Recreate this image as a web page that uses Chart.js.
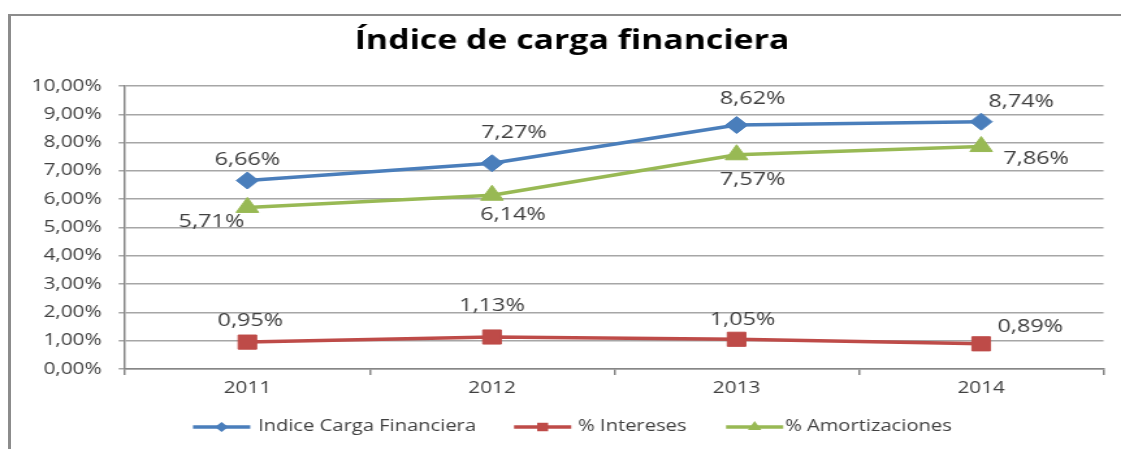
<!DOCTYPE html>
<html>
<head>
<meta charset="utf-8">
<script src="https://cdn.jsdelivr.net/npm/chart.js@4.4.1/dist/chart.umd.min.js"></script>
<style>
  html, body { margin: 0; padding: 0; background: #fff; width: 1121px; height: 449px; overflow: hidden; }
  #frame { position: absolute; left: 8px; top: 14px; width: 1200px; height: 500px;
           border-top: 2px solid #8c8c8c; border-left: 3px solid #8c8c8c; }
  /* the original picture is stretched sideways, so the canvas is too */
  #wrap { position: absolute; left: 0; top: 0; width: 862px; height: 449px;
          transform-origin: 0 0; transform: scaleX(1.3005); }
</style>
</head>
<body>
<div id="frame"></div>
<div id="wrap"><canvas id="chart" width="862" height="449"></canvas></div>
<script>
const STRETCH = 1121 / 862;

// data
const years = ['2011', '2012', '2013', '2014'];
const indiceCarga = [6.66, 7.27, 8.62, 8.74];
const intereses = [0.95, 1.13, 1.05, 0.89];
const amortizaciones = [5.71, 6.14, 7.57, 7.86];
const seriesNames = ['Indice Carga Financiera', '% Intereses', '% Amortizaciones'];
const yMin = 0, yMax = 10, yStep = 1;
const chartTitle = 'Índice de carga financiera';

const fmt = v => Number(v).toFixed(2).replace('.', ',') + '%';
const FONT = "'Open Sans', 'DejaVu Sans', sans-serif";
const TEXT = '#404040';

// where each value label sits relative to its point (screen px)
const labelOffsets = [
  [[0, -21], [22, -30], [16, -26], [40, -20]],
  [[3, -21], [0, -31], [6, -19], [49, -17]],
  [[-36, 14], [21, 20], [16, 25], [55, 12]]
];

const extras = {
  id: 'extras',
  afterDatasetsDraw(chart) {
    const ctx = chart.ctx;
    ctx.save();
    ctx.textAlign = 'center';
    ctx.textBaseline = 'middle';
    ctx.fillStyle = TEXT;
    ctx.font = '18px ' + FONT;
    chart.data.datasets.forEach((ds, i) => {
      chart.getDatasetMeta(i).data.forEach((pt, j) => {
        const off = labelOffsets[i][j];
        ctx.fillText(fmt(ds.data[j]), pt.x + off[0] / STRETCH, pt.y + off[1]);
      });
    });

    // title
    ctx.fillStyle = '#000';
    ctx.font = 'bold 26px ' + FONT;
    ctx.fillText(chartTitle, 572 / STRETCH, 42);

    // legend: line + marker + text
    const legendX = [[193, 258], [514, 578], [726, 785]];
    const ly = 427;
    ctx.textAlign = 'left';
    ctx.font = '15.5px ' + FONT;
    chart.data.datasets.forEach((ds, i) => {
      const x0 = legendX[i][0] / STRETCH, x1 = x0 + 44;
      ctx.strokeStyle = ds.borderColor;
      ctx.lineWidth = 3.5;
      ctx.beginPath();
      ctx.moveTo(x0, ly);
      ctx.lineTo(x1, ly);
      ctx.stroke();
      ctx.fillStyle = ds.borderColor;
      Chart.helpers.drawPoint(ctx, { pointStyle: ds.pointStyle, radius: ds.pointRadius * 0.6, borderWidth: 0 }, (x0 + x1) / 2, ly);
      ctx.fillStyle = TEXT;
      ctx.fillText(seriesNames[i], legendX[i][1] / STRETCH, ly);
    });
    ctx.restore();
  }
};

const mkSet = (i, data, color, style, radius) => ({
  label: seriesNames[i],
  data: data,
  borderColor: color,
  backgroundColor: color,
  borderWidth: 3.5,
  pointStyle: style,
  pointRadius: radius,
  pointBorderWidth: 1,
  pointBorderColor: color,
  pointBackgroundColor: color,
  tension: 0
});

new Chart(document.getElementById('chart').getContext('2d'), {
  type: 'line',
  data: {
    labels: years,
    datasets: [
      mkSet(0, indiceCarga, '#4a7ebb', 'rectRot', 8.5),
      mkSet(1, intereses, '#be4b48', 'rect', 10),
      mkSet(2, amortizaciones, '#98b954', 'triangle', 10)
    ]
  },
  options: {
    responsive: false,
    animation: false,
    layout: { padding: { top: 86, right: 13.5, bottom: 0, left: 0 } },
    plugins: { legend: { display: false }, title: { display: false }, tooltip: { enabled: false } },
    scales: {
      x: {
        offset: true,
        grid: { drawOnChartArea: false, tickLength: 6, color: '#868686', lineWidth: 1.5, offset: true },
        border: { color: '#868686', width: 1.5 },
        ticks: { color: TEXT, font: { family: FONT, size: 16 }, padding: 4 },
        afterFit: s => { s.height = 80; }
      },
      y: {
        min: yMin,
        max: yMax,
        ticks: { stepSize: yStep, callback: fmt, color: TEXT, font: { family: FONT, size: 16 }, padding: 13 },
        grid: { color: '#a6a6a6', lineWidth: 1.5, tickLength: 5 },
        border: { color: '#868686', width: 1.5 },
        afterFit: s => { s.width = 96.2; }
      }
    }
  },
  plugins: [extras]
});
</script>
</body>
</html>
